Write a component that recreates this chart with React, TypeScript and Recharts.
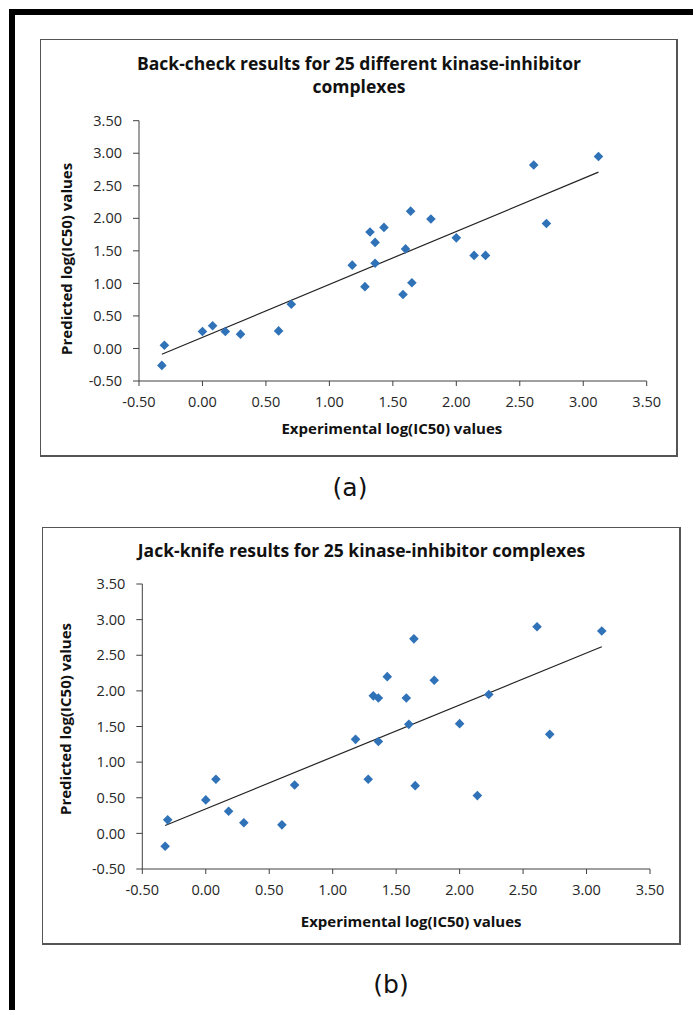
import { ScatterChart, Scatter, XAxis, YAxis, ReferenceLine, Label } from "recharts";

// experimental log(IC50), shared by both panels
const experimental = [-0.32, -0.3, 0.0, 0.08, 0.18, 0.3, 0.6, 0.7, 1.18, 1.28, 1.32, 1.36, 1.36, 1.43, 1.58, 1.6, 1.64, 1.65, 1.8, 2.0, 2.14, 2.23, 2.61, 2.71, 3.12];
const backCheckPredicted = [-0.26, 0.05, 0.26, 0.35, 0.26, 0.22, 0.27, 0.68, 1.28, 0.95, 1.79, 1.63, 1.31, 1.86, 0.83, 1.53, 2.11, 1.01, 1.99, 1.7, 1.43, 1.43, 2.82, 1.92, 2.95];
const jackKnifePredicted = [-0.18, 0.19, 0.47, 0.76, 0.31, 0.15, 0.12, 0.68, 1.32, 0.76, 1.93, 1.9, 1.29, 2.2, 1.9, 1.53, 2.73, 0.67, 2.15, 1.54, 0.53, 1.95, 2.9, 1.39, 2.84];

// trend line end points
const trendX = [-0.32, 3.12];
const backCheckTrendY = [-0.09, 2.71];
const jackKnifeTrendY = [0.11, 2.62];

const axisTicks = [-0.5, 0, 0.5, 1, 1.5, 2, 2.5, 3, 3.5];

const MARKER = "#2f72b8";
const AXIS = "#404040";

const Diamond = (props: any) => {
  const { cx, cy } = props;
  const r = 4.8;
  return <path d={`M${cx},${cy - r}L${cx + r},${cy}L${cx},${cy + r}L${cx - r},${cy}Z`} fill={MARKER} />;
};

interface PanelProps {
  left: number;
  top: number;
  width: number;
  height: number;
  title: string[];
  titleTop: number;
  titleSize: number;
  predicted: number[];
  trendY: number[];
  margin: { top: number; right: number; bottom: number; left: number };
  yLabelShift: [number, number];
  xLabelShift: [number, number];
  caption: string;
  captionX: number;
  captionY: number;
}

function Panel(p: PanelProps) {
  const data = experimental.map((x, i) => ({ x, y: p.predicted[i] }));
  return (
    <>
      <div
        style={{
          position: "absolute",
          left: p.left,
          top: p.top,
          width: p.width,
          height: p.height,
          border: "1px solid #555",
          borderRightWidth: 2,
          borderBottomWidth: 2,
          boxSizing: "border-box",
        }}
      />
      <div
        style={{
          position: "absolute",
          left: p.left,
          top: p.titleTop,
          width: p.width,
          textAlign: "center",
          fontWeight: 700,
          fontSize: p.titleSize,
          lineHeight: "23px",
          color: "#111",
        }}
      >
        {p.title.map((t) => (
          <div key={t}>{t}</div>
        ))}
      </div>
      <div style={{ position: "absolute", left: p.left, top: p.top }}>
        <ScatterChart width={p.width} height={p.height} margin={p.margin}>
          <XAxis
            type="number"
            dataKey="x"
            domain={[-0.5, 3.5]}
            ticks={axisTicks}
            tickFormatter={(v: number) => v.toFixed(2)}
            height={30}
            stroke={AXIS}
            tickSize={5}
            tickMargin={11}
            tick={{ fontSize: 14.5, fill: "#262626" }}
            interval={0}
          >
            <Label
              value="Experimental log(IC50) values"
              position="center"
              dx={p.xLabelShift[0]}
              dy={p.xLabelShift[1]}
              style={{ fontWeight: 700, fontSize: 15, fill: "#111" }}
            />
          </XAxis>
          <YAxis
            type="number"
            dataKey="y"
            domain={[-0.5, 3.5]}
            ticks={axisTicks}
            tickFormatter={(v: number) => v.toFixed(2)}
            width={60}
            stroke={AXIS}
            tickSize={6}
            tickMargin={11}
            tick={{ fontSize: 14.5, fill: "#262626" }}
            interval={0}
          >
            <Label
              value="Predicted log(IC50) values"
              position="center"
              angle={-90}
              dx={p.yLabelShift[0]}
              dy={p.yLabelShift[1]}
              style={{ fontWeight: 700, fontSize: 15, fill: "#111" }}
            />
          </YAxis>
          <ReferenceLine
            segment={[
              { x: trendX[0], y: p.trendY[0] },
              { x: trendX[1], y: p.trendY[1] },
            ]}
            stroke="#222"
            strokeWidth={1.2}
          />
          <Scatter data={data} shape={<Diamond />} isAnimationActive={false} />
        </ScatterChart>
      </div>
      <div
        style={{
          position: "absolute",
          left: p.captionX - 40,
          top: p.captionY - 16,
          width: 80,
          textAlign: "center",
          fontFamily: "'DejaVu Sans', sans-serif",
          fontSize: 25,
          lineHeight: "32px",
          color: "#111",
        }}
      >
        {p.caption}
      </div>
    </>
  );
}

export default function App() {
  return (
    <div
      style={{
        position: "absolute",
        left: 0,
        top: 0,
        width: 693,
        height: 1010,
        background: "#fff",
        fontFamily: "'Open Sans', sans-serif",
        overflow: "hidden",
      }}
    >
      <div style={{ position: "absolute", left: 9, top: 9, width: 684, height: 6, background: "#000" }} />
      <div style={{ position: "absolute", left: 9, top: 9, width: 6, height: 1001, background: "#000" }} />
      <Panel
        left={40}
        top={39}
        width={638}
        height={418}
        title={["Back-check results for 25 different kinase-inhibitor", "complexes"]}
        titleTop={52}
        titleSize={17.5}
        predicted={backCheckPredicted}
        trendY={backCheckTrendY}
        margin={{ top: 81.7, right: 31.3, bottom: 46, left: 39 }}
        yLabelShift={[-42, 8]}
        xLabelShift={[-1, 33]}
        caption="(a)"
        captionX={350}
        captionY={488}
      />
      <Panel
        left={42}
        top={527}
        width={639}
        height={418}
        title={["Jack-knife results for 25 kinase-inhibitor complexes"]}
        titleTop={539}
        titleSize={17.5}
        predicted={jackKnifePredicted}
        trendY={jackKnifeTrendY}
        margin={{ top: 57, right: 31, bottom: 46, left: 40.3 }}
        yLabelShift={[-47, -7.5]}
        xLabelShift={[15, 38]}
        caption="(b)"
        captionX={391}
        captionY={985}
      />
    </div>
  );
}
